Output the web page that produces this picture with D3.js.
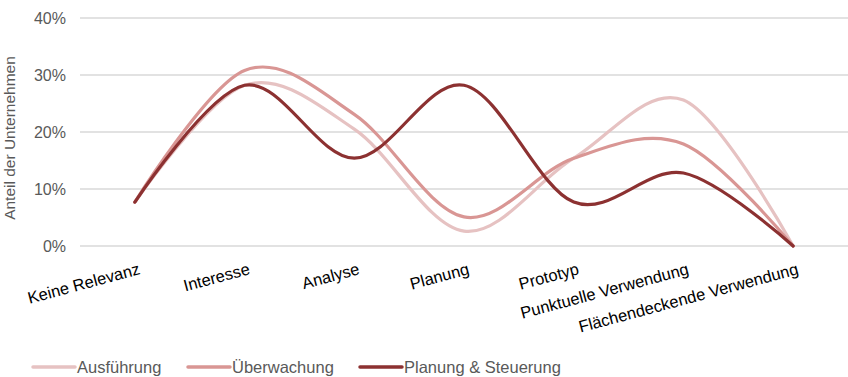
<!DOCTYPE html>
<html><head><meta charset="utf-8">
<script src="https://cdn.jsdelivr.net/npm/d3@7"></script>
<style>body{margin:0;background:#fff}svg{display:block;font-family:"Liberation Sans",Arial,sans-serif}</style>
</head><body><svg id="c" width="848" height="377"></svg>
<script>
const categories = ["Keine Relevanz","Interesse","Analyse","Planung","Prototyp","Punktuelle Verwendung","Flächendeckende Verwendung"];
const seriesNames = ["Ausführung","Überwachung","Planung & Steuerung"];
const ausfuehrung = [0.077,0.282,0.205,0.026,0.154,0.256,0.0];
const ueberwachung = [0.077,0.308,0.231,0.051,0.154,0.179,0.0];
const planungSteuerung = [0.077,0.282,0.154,0.282,0.077,0.128,0.0];
const yTicks = [0,0.1,0.2,0.3,0.4];
const colors = ["#e6c2c2","#d99694","#8c3131"];
const seriesValues = [ausfuehrung, ueberwachung, planungSteuerung];

const svg = d3.select("#c");
const x = d3.scaleBand().domain(categories).range([80,848]);
const y = d3.scaleLinear().domain([0,0.4]).range([246,18]);

// gridlines
svg.append("g").selectAll("line").data(yTicks).join("line")
  .attr("x1",80).attr("x2",848).attr("y1",d=>y(d)).attr("y2",d=>y(d))
  .attr("stroke","#d9d9d9").attr("stroke-width",1.3);

// y axis
const yAxis = svg.append("g").attr("transform","translate(66,0)")
  .call(d3.axisLeft(y).tickValues(yTicks).tickFormat(d3.format(".0%")).tickSize(0).tickPadding(0));
yAxis.select(".domain").remove();
yAxis.selectAll("text").attr("font-size",16).attr("fill","#595959").attr("font-family","Liberation Sans, Arial, sans-serif");

svg.append("text").attr("transform","translate(15,138) rotate(-90)")
  .attr("text-anchor","middle").attr("font-size",15.5).attr("fill","#595959").text("Anteil der Unternehmen");

// x axis labels
const xAxis = svg.append("g").attr("transform","translate(0,262)")
  .call(d3.axisBottom(x).tickSize(0).tickPadding(0));
xAxis.select(".domain").remove();
xAxis.selectAll("text").attr("font-size",16.5).attr("fill","#000").attr("font-family","Liberation Sans, Arial, sans-serif")
  .attr("text-anchor","end").attr("dy","0.75em")
  .attr("transform","translate(3,0) rotate(-15)");

// lines
const line = d3.line().x((d,i)=>x(categories[i])+x.bandwidth()/2).y(d=>y(d)).curve(d3.curveCardinal.tension(0));
svg.append("g").selectAll("path").data(seriesValues).join("path")
  .attr("d",d=>line(d)).attr("fill","none").attr("stroke",(d,i)=>colors[i])
  .attr("stroke-width",3.2).attr("stroke-linecap","round").attr("stroke-linejoin","round");

// legend
const legX = [33,188,360];
const leg = svg.append("g").selectAll("g").data(seriesNames).join("g")
  .attr("transform",(d,i)=>`translate(${legX[i]},367)`);
leg.append("line").attr("x1",0).attr("x2",42).attr("stroke",(d,i)=>colors[i]).attr("stroke-width",3.5).attr("stroke-linecap","round");
leg.append("text").attr("x",44).attr("dy","0.35em").attr("font-size",16.5).attr("fill","#595959").text(d=>d);
</script></body></html>
